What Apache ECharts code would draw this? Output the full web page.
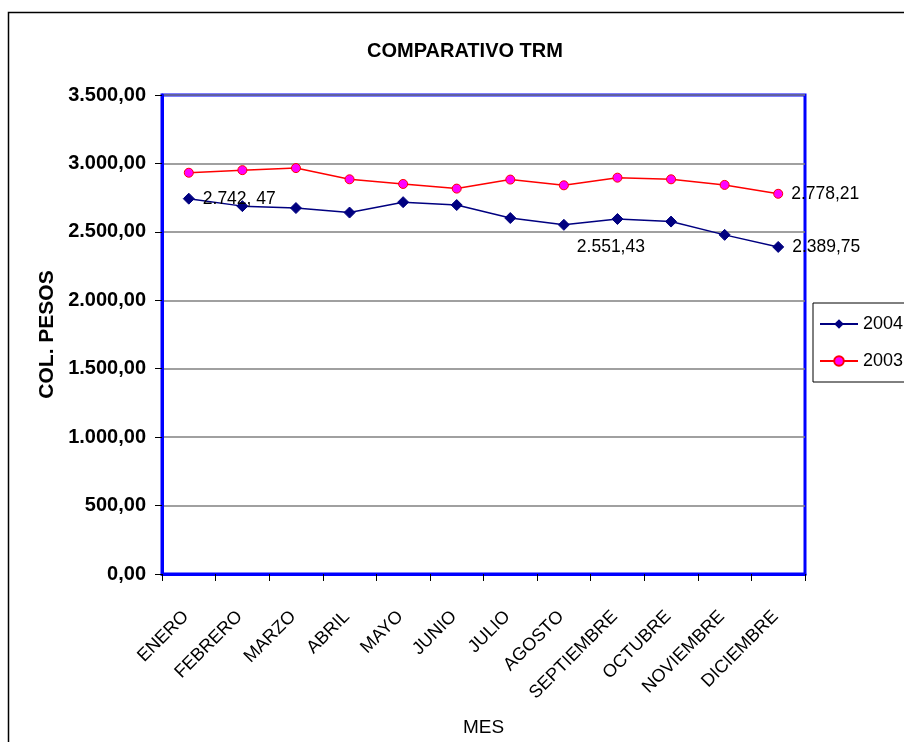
<!DOCTYPE html>
<html>
<head>
<meta charset="utf-8">
<script src="https://cdn.jsdelivr.net/npm/echarts@6/dist/echarts.min.js"></script>
<style>
html,body{margin:0;padding:0;background:#fff;}
#chart{width:904px;height:742px;}
</style>
</head>
<body>
<div id="chart"></div>
<script>
var months = ["ENERO","FEBRERO","MARZO","ABRIL","MAYO","JUNIO","JULIO","AGOSTO","SEPTIEMBRE","OCTUBRE","NOVIEMBRE","DICIEMBRE"];
var values2004 = [2742.47, 2688, 2674, 2641, 2717, 2696, 2601, 2551.43, 2594, 2575, 2478, 2389.75];
var values2003 = [2932, 2951, 2966, 2884, 2850, 2816, 2882, 2840, 2896, 2884, 2843, 2778.21];
var labels2004 = {0: "2.742, 47", 7: "2.551,43", 11: "2.389,75"};
var labels2003 = {11: "2.778,21"};
var yTicks = [0, 500, 1000, 1500, 2000, 2500, 3000, 3500];

var FONT = "'Liberation Sans', Arial, sans-serif";

function fmt(v) {
  var s = v.toFixed(2).split(".");
  return s[0].replace(/\B(?=(\d{3})+(?!\d))/g, ".") + "," + s[1];
}

function buildData(vals, labels, special) {
  return vals.map(function (v, i) {
    var d = { value: v };
    if (labels[i] !== undefined) {
      var lab = { show: true, formatter: labels[i], color: "#000", fontSize: 17.5, fontFamily: FONT };
      if (special && special[i]) { Object.assign(lab, special[i]); }
      else { lab.position = "right"; lab.distance = 8; }
      d.label = lab;
    }
    return d;
  });
}

var chart = echarts.init(document.getElementById("chart"));
chart.setOption({
  animation: false,
  backgroundColor: "#fff",
  title: {
    text: "COMPARATIVO TRM",
    left: 362, top: 36,
    textStyle: { fontFamily: FONT, fontSize: 20, fontWeight: "bold", color: "#000" }
  },
  graphic: [{
    type: "rect",
    shape: { x: 8.5, y: 12.5, width: 1000, height: 1000 },
    style: { fill: "none", stroke: "#000", lineWidth: 1.5 },
    silent: true
  }],
  legend: {
    orient: "vertical",
    left: 813, top: 303,
    padding: [12, 6, 12, 6],
    itemGap: 19,
    itemWidth: 38, itemHeight: 12,
    borderColor: "#000", borderWidth: 1,
    textStyle: { fontFamily: FONT, fontSize: 18, color: "#000" },
    data: ["2004", "2003"]
  },
  grid: { left: 162, right: 99, top: 95, bottom: 164, show: true, borderColor: "#0000FF", borderWidth: 3, backgroundColor: "transparent" },
  xAxis: {
    type: "category",
    data: months,
    boundaryGap: true,
    name: "MES",
    nameLocation: "middle",
    nameGap: 144,
    nameTextStyle: { fontFamily: FONT, fontSize: 19, color: "#000" },
    axisLine: { lineStyle: { color: "#0000FF", width: 3 } },
    axisTick: { show: true, length: 7, lineStyle: { color: "#000" } },
    axisLabel: { rotate: 45, interval: 0, margin: 37, padding: [0, 4, 0, 0], fontFamily: FONT, fontSize: 18, color: "#000" }
  },
  yAxis: {
    type: "value",
    min: 0, max: 3500, interval: 500,
    name: "COL. PESOS",
    nameLocation: "middle",
    nameGap: 102,
    nameTextStyle: { fontFamily: FONT, fontSize: 21, fontWeight: "bold", color: "#000" },
    axisLine: { show: true, lineStyle: { color: "#0000FF", width: 3 } },
    axisTick: { show: true, length: 7, lineStyle: { color: "#000" } },
    splitLine: { show: true, lineStyle: { color: "#808080", width: 1.5 } },
    axisLabel: {
      margin: 16, fontFamily: FONT, fontSize: 20, fontWeight: "bold", color: "#000",
      formatter: function (v) { return yTicks.indexOf(v) >= 0 ? fmt(v) : ""; }
    }
  },
  series: [
    {
      name: "2004", type: "line",
      data: buildData(values2004, labels2004, { 7: { position: "inside", offset: [47, 22] } }),
      symbol: "diamond", symbolSize: 11,
      lineStyle: { color: "#000080", width: 1.5 },
      itemStyle: { color: "#000080", borderColor: "#000080" },
      z: 3
    },
    {
      name: "2003", type: "line",
      data: buildData(values2003, labels2003),
      symbol: "circle", symbolSize: 9,
      lineStyle: { color: "#FF0000", width: 1.5 },
      itemStyle: { color: "#FF00FF", borderColor: "#FF0000", borderWidth: 1 },
      z: 2
    }
  ]
});
</script>
</body>
</html>
